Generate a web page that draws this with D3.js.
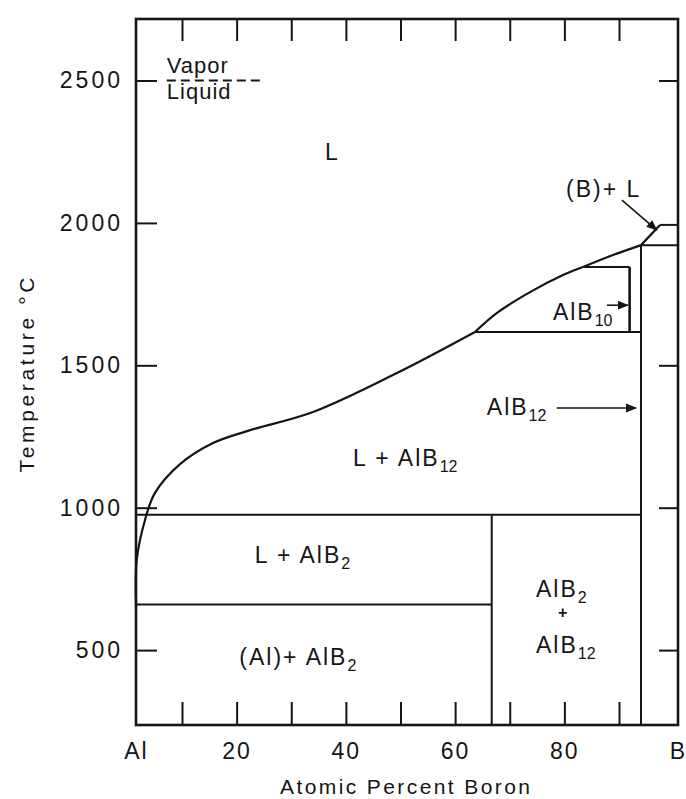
<!DOCTYPE html>
<html><head><meta charset="utf-8">
<script src="https://cdn.jsdelivr.net/npm/d3@7"></script>
<style>
body{margin:0;background:#fff}
svg{display:block}
text{font-family:"Liberation Sans",Arial,sans-serif;fill:#151515}
</style>
</head><body>
<svg id="c" width="686" height="799"></svg>
<script>
// ---------- data ----------
const xTickValues = [10,20,30,40,50,60,70,80,90];
const xLabelValues = [0,20,40,60,80,100];
const xLabelNames = {0:"Al",100:"B"};
const yTickValues = [500,1000,1500,2000,2500];
const yRightTickValues = [500,1000,1500,2500];

// liquidus curve (atomic % B, temperature °C)
const liquidusX = [0,0.15,1.96,4.13,9.57,15.68,21.90,33.98,49.36,63.64,67.67,73.71,79.75,83.41,88.90,93.73,96.95];
const liquidusT = [660,816,957,1052,1153,1227,1269,1336,1473,1617,1684,1757,1817,1845,1887,1922,1993];

// isotherms (horizontal invariant lines)
const isoFrom = [0,0,63.64,83.41,93.73,96.95];
const isoTo   = [93.73,66.7,93.73,91.8,100,100];
const isoT    = [975,660,1617,1845,1922,1993];

// compound (vertical) lines
const compX   = [66.7,91.8,93.73];
const compTlo = [null,1617,null];   // null = bottom of chart
const compThi = [975,1845,1922];

// vapor / liquid dashed line
const vaporX = [6.7,24.8];
const vaporT = 2500;

// arrows
const arrowX0 = [78.6,87.8,90.5];
const arrowT0 = [1350,1711,2080];
const arrowX1 = [92.9,91.5,96.4];
const arrowT1 = [1350,1711,1975];

// region labels: parts [text, isSub]
const labelParts = [
  [["L",0]],
  [["(B)+ L",0]],
  [["AlB",0],["10",1]],
  [["AlB",0],["12",1]],
  [["L + AlB",0],["12",1]],
  [["L + AlB",0],["2",1]],
  [["(Al)+ AlB",0],["2",1]],
  [["AlB",0],["2",1]],
  [["+",0]],
  [["AlB",0],["12",1]],
  [["Vapor",0]],
  [["Liquid",0]]
];
const labelX = [36.2,80.3,77.9,65.8,41.3,23.3,20.5,74.8,79.7,74.8,6.7,6.7];
const labelT = [2221,2091,1659,1325,1146,806,448,686,614,491,2526,2436];
const labelAnchor = ["start","start","start","start","start","start","start","start","middle","start","start","start"];

// ---------- chart ----------
const svg = d3.select("#c");
const x = d3.scaleLinear().domain([0,10,90,100]).range([136,182,619,678]);
const y = d3.scaleLinear().domain([237,2716]).range([725,19]);
const [T0,T1] = y.domain();
const ink = "#151515";

// defs: arrowhead
svg.append("defs").append("marker")
  .attr("id","ah").attr("viewBox","0 0 10 10").attr("refX",9).attr("refY",5)
  .attr("markerWidth",7).attr("markerHeight",7).attr("orient","auto")
  .append("path").attr("d","M0,1 L10,5 L0,9 z").attr("fill",ink);

// axes ticks
function styleAxis(g){ g.select(".domain").remove(); g.selectAll("line").attr("stroke",ink).attr("stroke-width",2); }
svg.append("g").attr("transform",`translate(${x(0)},0)`)
  .call(d3.axisLeft(y).tickValues(yTickValues).tickSize(-21).tickPadding(13).tickFormat(d3.format("d")))
  .call(styleAxis)
  .attr("font-family","Liberation Sans, Arial, sans-serif").attr("font-size",23)
  .selectAll("text").attr("fill",ink).attr("letter-spacing",3);
svg.append("g").attr("transform",`translate(${x(100)},0)`)
  .call(d3.axisRight(y).tickValues(yRightTickValues).tickSize(-19).tickFormat(""))
  .call(styleAxis);
svg.append("g").attr("transform",`translate(0,${y(T0)})`)
  .call(d3.axisBottom(x).tickValues(xTickValues).tickSize(-23).tickFormat(""))
  .call(styleAxis);
svg.append("g").attr("transform",`translate(0,${y(T1)})`)
  .call(d3.axisTop(x).tickValues(xTickValues).tickSize(-22).tickFormat(""))
  .call(styleAxis);
svg.append("g").attr("transform",`translate(0,${y(T0)})`)
  .call(d3.axisBottom(x).tickValues(xLabelValues).tickSize(0).tickPadding(18)
        .tickFormat(d => xLabelNames[d] !== undefined ? xLabelNames[d] : d))
  .call(g=>g.select(".domain").remove())
  .attr("font-family","Liberation Sans, Arial, sans-serif").attr("font-size",23)
  .selectAll("text").attr("fill",ink).attr("letter-spacing",2);

// frame
svg.append("rect").attr("x",x(0)).attr("y",y(T1)).attr("width",x(100)-x(0)).attr("height",y(T0)-y(T1))
  .attr("fill","none").attr("stroke",ink).attr("stroke-width",2.6);

// isotherms
svg.append("g").selectAll("line").data(isoT).join("line")
  .attr("x1",(d,i)=>x(isoFrom[i])).attr("x2",(d,i)=>x(isoTo[i]))
  .attr("y1",d=>y(d)).attr("y2",d=>y(d))
  .attr("stroke",ink).attr("stroke-width",2);

// compound lines
svg.append("g").selectAll("line").data(compX).join("line")
  .attr("x1",d=>x(d)).attr("x2",d=>x(d))
  .attr("y1",(d,i)=>y(compTlo[i]===null?T0:compTlo[i])).attr("y2",(d,i)=>y(compThi[i]))
  .attr("stroke",ink).attr("stroke-width",(d,i)=>i===1?2.6:2);

// liquidus, split into smooth pieces at the invariant (peritectic) temperatures
const pts = liquidusX.map((v,i)=>[v,liquidusT[i]]);
const breakT = [1617,1845,1922];
const pieces = [[]];
pts.forEach(p=>{
  pieces[pieces.length-1].push(p);
  if(breakT.includes(p[1])) pieces.push([p]);
});
const lineGen = d3.line().x(d=>x(d[0])).y(d=>y(d[1])).curve(d3.curveCatmullRom.alpha(0.5));
svg.append("g").selectAll("path").data(pieces.filter(p=>p.length>1)).join("path")
  .attr("d",lineGen)
  .attr("fill","none").attr("stroke",ink).attr("stroke-width",2.2).attr("stroke-linejoin","round");

// vapor dashed line
svg.append("line").attr("x1",x(vaporX[0])).attr("x2",x(vaporX[1]))
  .attr("y1",y(vaporT)).attr("y2",y(vaporT))
  .attr("stroke",ink).attr("stroke-width",2).attr("stroke-dasharray","9,5");

// arrows
svg.append("g").selectAll("line").data(arrowX0).join("line")
  .attr("x1",d=>x(d)).attr("y1",(d,i)=>y(arrowT0[i]))
  .attr("x2",(d,i)=>x(arrowX1[i])).attr("y2",(d,i)=>y(arrowT1[i]))
  .attr("stroke",ink).attr("stroke-width",1.6).attr("marker-end","url(#ah)");

// region labels
const lab = svg.append("g").attr("font-size",23);
labelParts.forEach((parts,i)=>{
  const t = lab.append("text").attr("x",x(labelX[i])).attr("y",y(labelT[i]))
    .attr("text-anchor",labelAnchor[i]).attr("letter-spacing", i>=10?1:2);
  if(i>=10) t.attr("font-size",22);
  if(i===8) t.attr("font-size",16).attr("font-weight","bold").attr("letter-spacing",0);
  parts.forEach(([s,sub])=>{
    const ts = t.append("tspan").text(s);
    if(sub) ts.attr("font-size",16).attr("dy",6).attr("letter-spacing",0);
  });
});

// axis titles
svg.append("text").attr("x",405).attr("y",794).attr("text-anchor","middle")
  .attr("font-size",21).attr("textLength",250).attr("lengthAdjust","spacing")
  .text("Atomic Percent Boron");
svg.append("text").attr("transform","translate(34,375) rotate(-90)").attr("text-anchor","middle")
  .attr("font-size",21).attr("textLength",195).attr("lengthAdjust","spacing")
  .text("Temperature  °C");
</script>
</body></html>
